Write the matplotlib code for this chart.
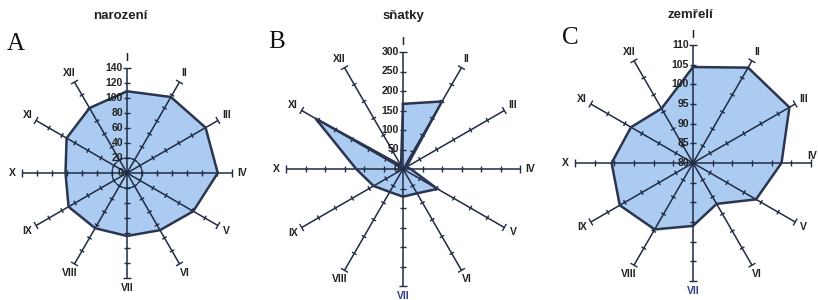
import numpy as np
import matplotlib
matplotlib.use("Agg")
import matplotlib.pyplot as plt
from matplotlib.collections import LineCollection

plt.rcParams['font.family'] = ['Liberation Sans', 'DejaVu Sans']

# ---- data ----
months = ["I", "II", "III", "IV", "V", "VI", "VII", "VIII", "IX", "X", "XI", "XII"]

titles = ["narození", "sňatky", "zemřelí"]
letters = ["A", "B", "C"]

births = [109, 117, 121, 121, 102, 88, 84, 85, 90, 82, 93, 100]
marriages = [167, 200, 10, 20, 102, 72, 71, 68, 87, 120, 259, 10]
deaths = [104.4, 108, 108.3, 102.5, 98.5, 92, 96, 99.5, 101.5, 100.7, 98.2, 96]

births_ticks = [0, 20, 40, 60, 80, 100, 120, 140]
marriages_ticks = [0, 50, 100, 150, 200, 250, 300]
deaths_ticks = [80, 85, 90, 95, 100, 105, 110]

series = [births, marriages, deaths]
tick_sets = [births_ticks, marriages_ticks, deaths_ticks]

# ---- layout (pixels) ----
W, H = 818, 300
centers = [(127, 173), (403, 169), (693, 163)]
radius_px = [105, 117, 118]
title_pos = [(120, 16), (403, 16), (690, 15)]
letter_pos = [(16, 44), (277, 42), (570, 38)]

FILL = '#abcbf0'
EDGE = '#2b3550'
AXC = '#1f2a44'

fig = plt.figure(figsize=(W / 100, H / 100), dpi=100)

for i in range(3):
    cx, cy = centers[i]
    ticks = tick_sets[i]
    r0, rmax = ticks[0], ticks[-1]
    span = rmax - r0
    scale = radius_px[i] / span  # px per unit
    hw = 140
    ax = fig.add_axes([(cx - hw) / W, 0, 2 * hw / W, 1])
    ax.set_xlim(-hw / scale, hw / scale)
    ax.set_ylim(-(H - cy) / scale, cy / scale)
    ax.axis('off')

    n = len(months)
    th = np.deg2rad(np.arange(n) * 360.0 / n)
    ux, uy = np.sin(th), np.cos(th)
    px, py = np.cos(th), -np.sin(th)

    # polygon
    vals = np.array(series[i], dtype=float) - r0
    xs = vals * ux
    ys = vals * uy
    ax.fill(np.r_[xs, xs[0]], np.r_[ys, ys[0]], color=FILL, zorder=1, lw=0)
    ax.plot(np.r_[xs, xs[0]], np.r_[ys, ys[0]], color=EDGE, lw=1.8, zorder=3,
            solid_joinstyle='miter')

    # spokes
    segs = []
    for k in range(n):
        segs.append([(0, 0), (span * ux[k], span * uy[k])])
    ax.add_collection(LineCollection(segs, colors=AXC, linewidths=1.1, zorder=2))

    # ticks
    tl = 2.6 / scale
    el = 4.0 / scale
    tsegs = []
    for k in range(n):
        for t in ticks[1:-1]:
            r = t - r0
            tsegs.append([(r * ux[k] - tl * px[k], r * uy[k] - tl * py[k]),
                          (r * ux[k] + tl * px[k], r * uy[k] + tl * py[k])])
        tsegs.append([(span * ux[k] - el * px[k], span * uy[k] - el * py[k]),
                      (span * ux[k] + el * px[k], span * uy[k] + el * py[k])])
    ax.add_collection(LineCollection(tsegs, colors=AXC, linewidths=1.0, zorder=2))

    # small inner circle on panel A
    if i == 0:
        a = np.linspace(0, 2 * np.pi, 100)
        rr = ticks[1] - r0
        ax.plot(rr * np.cos(a), rr * np.sin(a), color=AXC, lw=0.8, zorder=2)

    # tick labels on axis I
    for t in ticks:
        r = t - r0
        ax.text(-4 / scale, r, str(t), ha='right', va='center', fontsize=7.5,
                fontweight='bold', color='#222222', zorder=4)

    # month labels
    off = 10 / scale
    for k in range(n):
        rl = span + off
        col = '#2f3f8a' if (k == 6 and i > 0) else '#222222'
        x, y = rl * ux[k], rl * uy[k]
        ha = 'center'
        if i == 2 and k == 3:
            # keep the label inside the figure's right edge
            x = (W - 1 - cx) / scale
            y = 7 / scale
            ha = 'right'
        ax.text(x, y, months[k], ha=ha, va='center',
                fontsize=7.5, fontweight='bold', color=col, zorder=4)

    # title and panel letter
    tx, ty = title_pos[i]
    fig.text(tx / W, 1 - ty / H, titles[i], ha='center', va='center',
             fontsize=9.5, fontweight='bold', color='#222222')
    lx, ly = letter_pos[i]
    fig.text(lx / W, 1 - ly / H, letters[i], ha='center', va='center',
             fontsize=18, family=['Liberation Serif', 'DejaVu Serif'], color='#111111')

fig.savefig('out.png', dpi=100)
